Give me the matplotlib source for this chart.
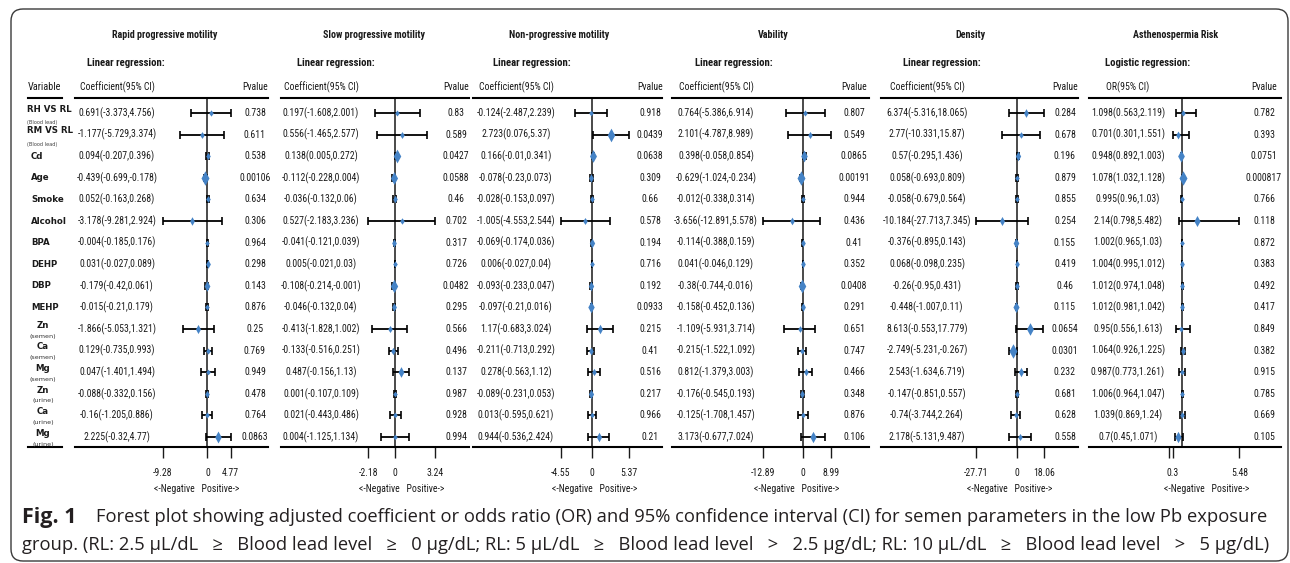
import numpy as np
import matplotlib
matplotlib.use("Agg")
import matplotlib.pyplot as plt
from matplotlib import font_manager, transforms
from matplotlib.patches import FancyBboxPatch
from matplotlib.path import Path


# -----------------------------
# 1 Data
# -----------------------------

variables = ["RH VS RL", "RM VS RL", "Cd", "Age", "Smoke", "Alcohol", "BPA", "DEHP",
             "DBP", "MEHP", "Zn", "Ca", "Mg", "Zn", "Ca", "Mg"]
sublabels = ["(Blood lead)", "(Blood lead)", "", "", "", "", "", "", "", "",
             "(semen)", "(semen)", "(semen)", "(urine)", "(urine)", "(urine)"]

rapid_coef = [0.691, -1.177, 0.094, -0.439, 0.052, -3.178, -0.004, 0.031,
              -0.179, -0.015, -1.866, 0.129, 0.047, -0.088, -0.16, 2.225]
rapid_low = [-3.373, -5.729, -0.207, -0.699, -0.163, -9.281, -0.185, -0.027,
             -0.42, -0.21, -5.053, -0.735, -1.401, -0.332, -1.205, -0.32]
rapid_high = [4.756, 3.374, 0.396, -0.178, 0.268, 2.924, 0.176, 0.089,
              0.061, 0.179, 1.321, 0.993, 1.494, 0.156, 0.886, 4.77]
rapid_p = [0.738, 0.611, 0.538, 0.00106, 0.634, 0.306, 0.964, 0.298,
           0.143, 0.876, 0.25, 0.769, 0.949, 0.478, 0.764, 0.0863]
rapid_ticks = [-9.28, 0, 4.77]

slow_coef = [0.197, 0.556, 0.138, -0.112, -0.036, 0.527, -0.041, 0.005,
             -0.108, -0.046, -0.413, -0.133, 0.487, 0.001, 0.021, 0.004]
slow_low = [-1.608, -1.465, 0.005, -0.228, -0.132, -2.183, -0.121, -0.021,
            -0.214, -0.132, -1.828, -0.516, -0.156, -0.107, -0.443, -1.125]
slow_high = [2.001, 2.577, 0.272, 0.004, 0.06, 3.236, 0.039, 0.03,
             -0.001, 0.04, 1.002, 0.251, 1.13, 0.109, 0.486, 1.134]
slow_p = [0.83, 0.589, 0.0427, 0.0588, 0.46, 0.702, 0.317, 0.726,
          0.0482, 0.295, 0.566, 0.496, 0.137, 0.987, 0.928, 0.994]
slow_ticks = [-2.18, 0, 3.24]

nonprog_coef = [-0.124, 2.723, 0.166, -0.078, -0.028, -1.005, -0.069, 0.006,
                -0.093, -0.097, 1.17, -0.211, 0.278, -0.089, 0.013, 0.944]
nonprog_low = [-2.487, 0.076, -0.01, -0.23, -0.153, -4.553, -0.174, -0.027,
               -0.233, -0.21, -0.683, -0.713, -0.563, -0.231, -0.595, -0.536]
nonprog_high = [2.239, 5.37, 0.341, 0.073, 0.097, 2.544, 0.036, 0.04,
                0.047, 0.016, 3.024, 0.292, 1.12, 0.053, 0.621, 2.424]
nonprog_p = [0.918, 0.0439, 0.0638, 0.309, 0.66, 0.578, 0.194, 0.716,
             0.192, 0.0933, 0.215, 0.41, 0.516, 0.217, 0.966, 0.21]
nonprog_ticks = [-4.55, 0, 5.37]

vab_coef = [0.764, 2.101, 0.398, -0.629, -0.012, -3.656, -0.114, 0.041,
            -0.38, -0.158, -1.109, -0.215, 0.812, -0.176, -0.125, 3.173]
vab_low = [-5.386, -4.787, -0.058, -1.024, -0.338, -12.891, -0.388, -0.046,
           -0.744, -0.452, -5.931, -1.522, -1.379, -0.545, -1.708, -0.677]
vab_high = [6.914, 8.989, 0.854, -0.234, 0.314, 5.578, 0.159, 0.129,
            -0.016, 0.136, 3.714, 1.092, 3.003, 0.193, 1.457, 7.024]
vab_p = [0.807, 0.549, 0.0865, 0.00191, 0.944, 0.436, 0.41, 0.352,
         0.0408, 0.291, 0.651, 0.747, 0.466, 0.348, 0.876, 0.106]
vab_ticks = [-12.89, 0, 8.99]

dens_coef = [6.374, 2.77, 0.57, 0.058, -0.058, -10.184, -0.376, 0.068,
             -0.26, -0.448, 8.613, -2.749, 2.543, -0.147, -0.74, 2.178]
dens_low = [-5.316, -10.331, -0.295, -0.693, -0.679, -27.713, -0.895, -0.098,
            -0.95, -1.007, -0.553, -5.231, -1.634, -0.851, -3.744, -5.131]
dens_high = [18.065, 15.87, 1.436, 0.809, 0.564, 7.345, 0.143, 0.235,
             0.431, 0.11, 17.779, -0.267, 6.719, 0.557, 2.264, 9.487]
dens_p = [0.284, 0.678, 0.196, 0.879, 0.855, 0.254, 0.155, 0.419,
          0.46, 0.115, 0.0654, 0.0301, 0.232, 0.681, 0.628, 0.558]
dens_ticks = [-27.71, 0, 18.06]

asth_or = [1.098, 0.701, 0.948, 1.078, 0.995, 2.14, 1.002, 1.004,
           1.012, 1.012, 0.95, 1.064, 0.987, 1.006, 1.039, 0.7]
asth_low = [0.563, 0.301, 0.892, 1.032, 0.96, 0.798, 0.965, 0.995,
            0.974, 0.981, 0.556, 0.926, 0.773, 0.964, 0.869, 0.45]
asth_high = [2.119, 1.551, 1.003, 1.128, 1.03, 5.482, 1.03, 1.012,
             1.048, 1.042, 1.613, 1.225, 1.261, 1.047, 1.24, 1.071]
asth_p = [0.782, 0.393, 0.0751, 0.000817, 0.766, 0.118, 0.872, 0.383,
          0.492, 0.417, 0.849, 0.382, 0.915, 0.785, 0.669, 0.105]
asth_ticks = [0.3, 5.48]

titles = ["Rapid progressive motility", "Slow progressive motility", "Non-progressive motility",
          "Vability", "Density", "Asthenospermia Risk"]
models = ["Linear regression:"] * 5 + ["Logistic regression:"]
est_headers = ["Coefficient(95% CI)"] * 5 + ["OR(95% CI)"]

panels = [
    (rapid_coef, rapid_low, rapid_high, rapid_p, rapid_ticks, 0),
    (slow_coef, slow_low, slow_high, slow_p, slow_ticks, 0),
    (nonprog_coef, nonprog_low, nonprog_high, nonprog_p, nonprog_ticks, 0),
    (vab_coef, vab_low, vab_high, vab_p, vab_ticks, 0),
    (dens_coef, dens_low, dens_high, dens_p, dens_ticks, 0),
    (asth_or, asth_low, asth_high, asth_p, asth_ticks, 1),
]


# -----------------------------
# 2 Layout (pixels of a 1290x563 canvas)
# -----------------------------

W, H = 1290, 563
row_top, row_step = 113, 21.6          # first row centre, row spacing
line_top, line_bottom = 98, 447        # header rule and bottom rule

panel_left = [75, 281, 473, 672, 881, 1089]
panel_right = [268, 469, 662, 869, 1078, 1281]
zero_px = [207.5, 395, 592, 803, 1017, 1169.2]   # where value 0 sits
px_per_unit = [4.84, 12.35, 6.9, 3.12, 1.48, 12.8]
coef_x = [117, 321, 516, 716, 927, 1128]
pval_x = [255, 456, 650, 854, 1065, 1264]
title_x = [165, 374, 559, 773, 970, 1176]
model_x = [87, 297, 493, 695, 903, 1105]

# pick a narrow sans if one is installed
ttf = font_manager.fontManager.ttflist
names = {f.name for f in ttf}
narrow, stretch = None, "normal"
for cand in ["Liberation Sans Narrow", "Roboto Condensed", "Noto Sans Condensed",
             "Open Sans Condensed", "Arial Narrow", "Nimbus Sans Narrow", "DejaVu Sans Condensed"]:
    if cand in names:
        narrow = cand
        break
if narrow is None:
    others = sorted(n for n in names if ("Narrow" in n or "Condensed" in n)
                    and "Mono" not in n and "Serif" not in n)
    if others:
        narrow = others[0]
if narrow is None:
    if any(f.name == "DejaVu Sans" and f.stretch == "condensed" for f in ttf):
        narrow, stretch = "DejaVu Sans", "condensed"
    else:
        narrow = "Liberation Sans"
plt.rcParams["font.family"] = [narrow, "DejaVu Sans"]
plt.rcParams["font.stretch"] = stretch

blue = "#4583c6"
ink = "#1a1a1a"

fig = plt.figure(figsize=(W / 100, H / 100), dpi=100)
renderer = fig.canvas.get_renderer()


def fit_size(text, target_px, weight="normal", family=None, cap=10):
    # font size that makes `text` about target_px wide
    t = fig.text(0, 0, text, fontsize=10, fontweight=weight, family=family)
    w = t.get_window_extent(renderer=renderer).width
    t.remove()
    return min(cap, 10 * target_px / w)


def diamond(width, height):
    # diamond marker path with its own aspect ratio
    return Path([(0, -height / 2), (width / 2, 0), (0, height / 2), (-width / 2, 0), (0, -height / 2)],
                [Path.MOVETO, Path.LINETO, Path.LINETO, Path.LINETO, Path.CLOSEPOLY])


fs_val = fit_size("0.691(-3.373,4.756)", 76)
fs_title = fit_size("Rapid progressive motility", 106, weight="bold")
fs_model = fit_size("Linear regression:", 79, weight="bold")

bg = fig.add_axes([0, 0, 1, 1])
bg.set_xlim(0, W)
bg.set_ylim(H, 0)
bg.axis("off")

# frame with rounded corners
bg.add_patch(FancyBboxPatch((11, 9), 1277, 552, boxstyle="round,pad=0,rounding_size=12",
                            fill=False, edgecolor="#3a3a3a", lw=1.0))

ylim = ((line_bottom - row_top) / row_step, (line_top - row_top) / row_step)
rows = np.arange(len(variables))
ax_bottom = 1 - line_bottom / H
ax_height = (line_bottom - line_top) / H


# -----------------------------
# 3 Variable column
# -----------------------------

vax = fig.add_axes([28 / W, ax_bottom, 34 / W, ax_height])
vax.set_ylim(*ylim)
vax.set_xticks([])
vax.set_yticks([])
vax.patch.set_visible(False)
for side in ["left", "right"]:
    vax.spines[side].set_visible(False)
vax.spines["top"].set_linewidth(1.5)
vax.spines["bottom"].set_linewidth(1.5)

bg.text(28, 87, "Variable", ha="left", va="center", fontsize=fs_val * 1.05, color=ink)
vtrans = transforms.blended_transform_factory(bg.transData, vax.transData)
for i, (name, sub) in enumerate(zip(variables, sublabels)):
    if sub == "(Blood lead)":
        vax.text(27, i - 0.17, name, transform=vtrans, ha="left", va="center",
                 fontsize=6.2, fontweight="bold", family="DejaVu Sans", color=ink)
        vax.text(27, i + 0.45, sub, transform=vtrans, ha="left", va="center",
                 fontsize=3.6, family="DejaVu Sans", color="#444444")
    elif sub:
        vax.text(43, i - 0.17, name, transform=vtrans, ha="center", va="center",
                 fontsize=6.2, fontweight="bold", family="DejaVu Sans", color=ink)
        vax.text(43, i + 0.33, sub, transform=vtrans, ha="center", va="center",
                 fontsize=4.6, family="DejaVu Sans", color="#333333")
    else:
        vax.text(31, i, name, transform=vtrans, ha="left", va="center",
                 fontsize=6.2, fontweight="bold", family="DejaVu Sans", color=ink)


# -----------------------------
# 4 Forest panels
# -----------------------------

for k, (est, low, high, pval, ticks, ref) in enumerate(panels):
    est = np.array(est)
    low = np.array(low)
    high = np.array(high)
    pval = np.array(pval)

    left, right = panel_left[k], panel_right[k]
    ax = fig.add_axes([left / W, ax_bottom, (right - left) / W, ax_height])
    ax.patch.set_visible(False)
    ax.set_xlim((left - zero_px[k]) / px_per_unit[k], (right - zero_px[k]) / px_per_unit[k])
    ax.set_ylim(*ylim)
    for side in ["left", "right"]:
        ax.spines[side].set_visible(False)
    ax.spines["top"].set_linewidth(1.5)
    ax.spines["bottom"].set_linewidth(1.5)
    ax.set_yticks([])

    ax.set_xticks(ticks)
    ax.set_xticklabels([f"{t:g}" for t in ticks])
    if ref != 0:
        ax.set_xticks([0.0], minor=True)
    ax.tick_params(axis="x", which="both", direction="out", length=8, width=1.0,
                   pad=7, labelsize=fs_val, colors=ink)

    # reference line
    ax.axvline(ref, color="#2b2b2b", lw=1.2, zorder=1)

    # confidence intervals and point estimates (bigger marker = smaller p)
    ax.errorbar(est, rows, xerr=[est - low, high - est], fmt="none", ecolor="black",
                elinewidth=1.3, capsize=3.0, capthick=1.2, zorder=2)
    height_px = 5.5 + 9 * np.clip(-np.log10(pval) / 1.5, 0, 1)
    for i in rows:
        h = height_px[i]
        w = max(0.55 * h, 4.6)
        ax.plot(est[i], i, linestyle="none", marker=diamond(w, h), markersize=h / 1.389,
                color=blue, markeredgewidth=0, zorder=3)

    # text columns
    rtrans = transforms.blended_transform_factory(bg.transData, ax.transData)
    for i in rows:
        ax.text(coef_x[k], i, f"{est[i]:g}({low[i]:g},{high[i]:g})", transform=rtrans,
                ha="center", va="center", fontsize=fs_val, color=ink)
        ax.text(pval_x[k], i, f"{pval[i]:g}", transform=rtrans,
                ha="center", va="center", fontsize=fs_val, color=ink)

    # headers
    bg.text(title_x[k], 35, titles[k], ha="center", va="center", fontsize=fs_title,
            fontweight="bold", color=ink)
    bg.text(model_x[k], 63, models[k], ha="left", va="center", fontsize=fs_model,
            fontweight="bold", color=ink)
    bg.text(coef_x[k], 87, est_headers[k], ha="center", va="center", fontsize=fs_val, color=ink)
    bg.text(pval_x[k], 87, "Pvalue", ha="center", va="center", fontsize=fs_val, color=ink)

    # direction note under the axis
    btrans = transforms.blended_transform_factory(ax.transData, bg.transData)
    ax.text((ticks[0] + ticks[-1]) / 2, 489, "<-Negative   Positive->", transform=btrans,
            ha="center", va="center", fontsize=fs_val, color=ink)


# -----------------------------
# 5 Caption
# -----------------------------

cap_font = ["Open Sans", "DejaVu Sans"]
fs_cap = 13.2
bg.text(22, 517, "Fig. 1", ha="left", va="center", fontsize=15.5,
        fontweight="bold", family=cap_font, color="#231f20")
bg.text(96, 517, "Forest plot showing adjusted coefficient or odds ratio (OR) and 95% "
        "confidence interval (CI) for semen parameters in the low Pb exposure",
        ha="left", va="center", fontsize=fs_cap, family=cap_font, color="#231f20")
bg.text(22, 545, "group. (RL: 2.5 \u03bcL/dL   \u2265   Blood lead level   \u2265   0 \u03bcg/dL; "
        "RL: 5 \u03bcL/dL   \u2265   Blood lead level   >   2.5 \u03bcg/dL; "
        "RL: 10 \u03bcL/dL   \u2265   Blood lead level   >   5 \u03bcg/dL)",
        ha="left", va="center", fontsize=fs_cap, family=cap_font, color="#231f20")

fig.savefig("out.png", dpi=100)
